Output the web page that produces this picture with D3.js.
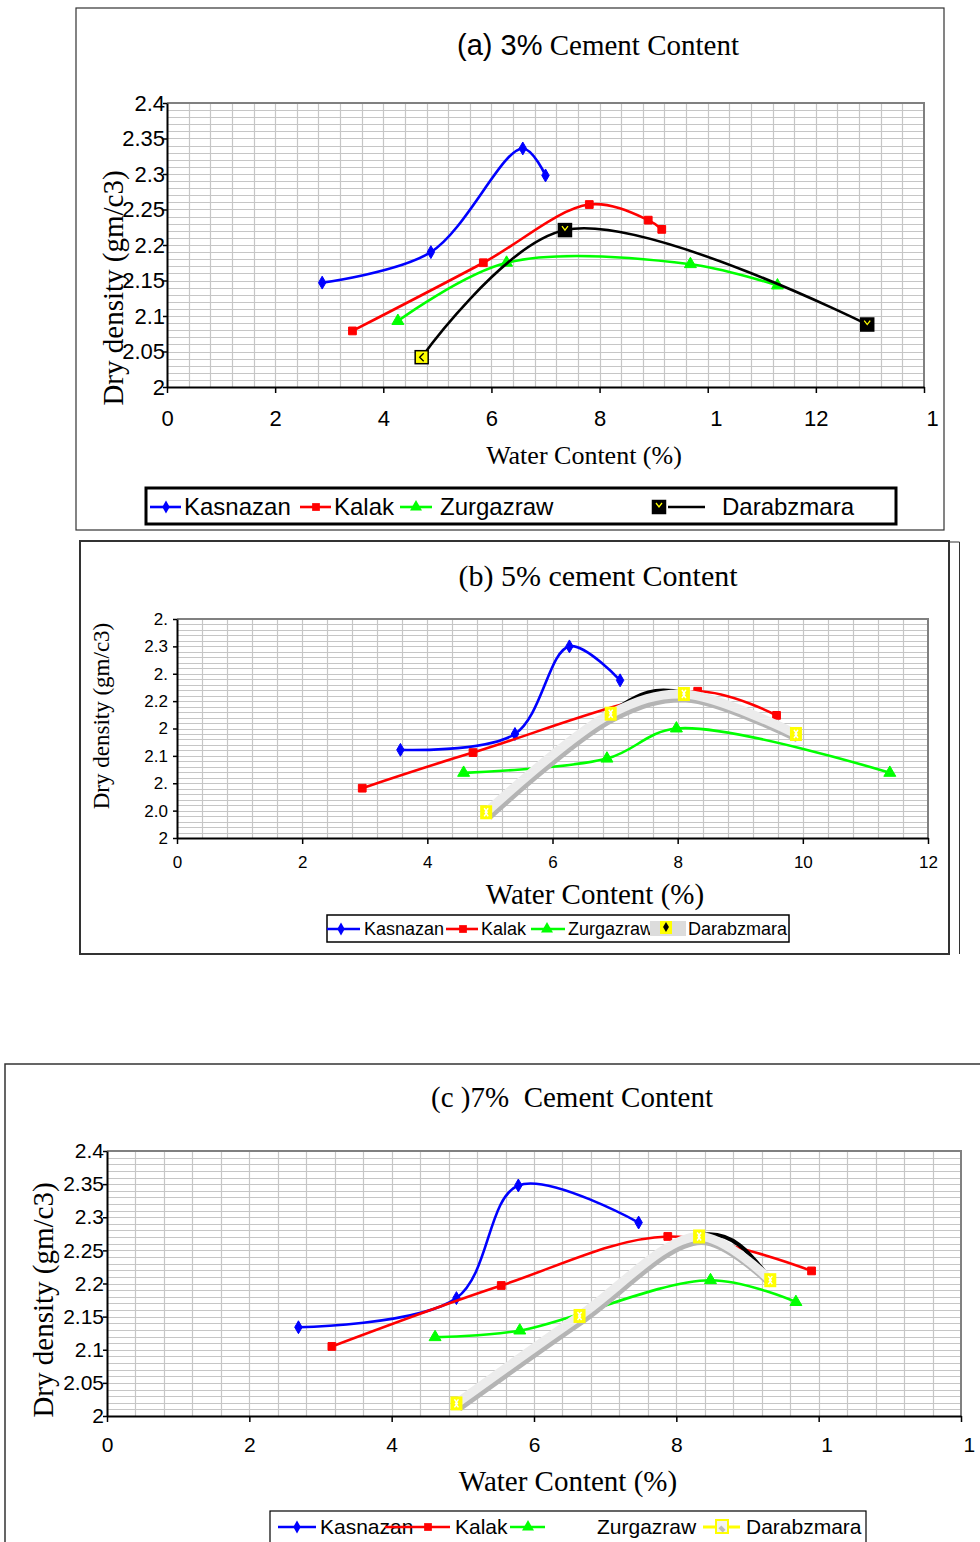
<!DOCTYPE html>
<html lang="en">
<head>
<meta charset="utf-8">
<script src="https://cdn.jsdelivr.net/npm/d3@7"></script>
<style>
  body { margin: 0; background: #fff; }
  text { white-space: pre; }
</style>
</head>
<body>
<svg id="chart" width="980" height="1542"></svg>
<script>
// series names
var names = ['Kasnazan', 'Kalak', 'Zurgazraw', 'Darabzmara'];

// (a) 3% cement content : [water content, dry density]
var kasnazan3 = [[2.87, 2.147], [4.88, 2.190], [6.58, 2.336], [7.00, 2.298]];
var kalak3 = [[3.43, 2.079], [5.85, 2.175], [7.81, 2.257], [8.90, 2.235], [9.15, 2.222]];
var zurgazraw3 = [[4.27, 2.093], [6.28, 2.175], [9.68, 2.173], [11.29, 2.143]];
var darabzmara3 = [[4.71, 2.042], [7.36, 2.221], [12.95, 2.088]];

// (b) 5% cement content
var kasnazan5 = [[3.57, 2.111], [5.40, 2.140], [6.27, 2.300], [7.08, 2.238]];
var kalak5 = [[2.96, 2.041], [4.73, 2.106], [8.32, 2.218], [9.58, 2.174]];
var zurgazraw5 = [[4.58, 2.069], [6.87, 2.095], [7.98, 2.150], [11.39, 2.069]];
var darabzmara5 = [[4.94, 1.997], [6.93, 2.177], [8.10, 2.213], [9.89, 2.140]];

// (c) 7% cement content
var kasnazan7 = [[2.69, 2.134], [4.91, 2.178], [5.78, 2.348], [7.47, 2.292]];
var kalak7 = [[3.16, 2.105], [5.54, 2.197], [7.88, 2.271], [9.90, 2.219]];
var zurgazraw7 = [[4.61, 2.119], [5.80, 2.129], [8.48, 2.205], [9.68, 2.172]];
var darabzmara7 = [[4.91, 2.019], [6.64, 2.151], [8.32, 2.271], [9.32, 2.205]];

// tick labels (as printed, some are cut off in the original)
var xTicksA = [0, 2, 4, 6, 8, 10, 12, 14];
var xLabelsA = ['0', '2', '4', '6', '8', '1', '12', '1'];
var yTicksA = [2, 2.05, 2.1, 2.15, 2.2, 2.25, 2.3, 2.35, 2.4];
var yLabelsA = ['2', '2.05', '2.1', '2.15', '2.2', '2.25', '2.3', '2.35', '2.4'];

var xTicksB = [0, 2, 4, 6, 8, 10, 12];
var xLabelsB = ['0', '2', '4', '6', '8', '10', '12'];
var yTicksB = [1.95, 2, 2.05, 2.1, 2.15, 2.2, 2.25, 2.3, 2.35];
var yLabelsB = ['2', '2.0', '2.', '2.1', '2', '2.2', '2.', '2.3', '2.'];

var xTicksC = [0, 2, 4, 6, 8, 10, 12];
var xLabelsC = ['0', '2', '4', '6', '8', '1', '1'];
var yTicksC = [2, 2.05, 2.1, 2.15, 2.2, 2.25, 2.3, 2.35, 2.4];
var yLabelsC = ['2', '2.05', '2.1', '2.15', '2.2', '2.25', '2.3', '2.35', '2.4'];

var sans = '"Liberation Sans", Arial, sans-serif';
var serif = '"Liberation Serif", "Times New Roman", serif';

var colors = { Kasnazan: '#0000ff', Kalak: '#ff0000', Zurgazraw: '#00ff00', Darabzmara: '#000000' };
var shapes = { Kasnazan: d3.symbolDiamond, Kalak: d3.symbolSquare, Zurgazraw: d3.symbolTriangle };
var sizes = { Kasnazan: 48, Kalak: 60, Zurgazraw: 62 };

var svg = d3.select('#chart');

var drawDarMarker = function(g, cx, cy, first) {
  g.append('rect').attr('x', cx - 6.5).attr('y', cy - 6.5).attr('width', 13).attr('height', 13)
    .attr('fill', first ? '#ffff00' : '#000').attr('stroke', '#000').attr('stroke-width', 1.5);
  g.append('path')
    .attr('d', first ? 'M' + (cx + 2) + ',' + (cy - 4) + 'l-4,4l4,4' : 'M' + (cx - 3) + ',' + (cy - 4) + 'l3,4l3,-4')
    .attr('fill', 'none').attr('stroke', first ? '#000' : '#ffff00').attr('stroke-width', 1.3);
};

var drawYellowMarker = function(g, cx, cy) {
  g.append('rect').attr('x', cx - 6).attr('y', cy - 7).attr('width', 12).attr('height', 14)
    .attr('fill', '#ffff00');
  g.append('path')
    .attr('d', 'M' + (cx - 2) + ',' + (cy - 4) + 'l3,4l-3,4M' + (cx + 2) + ',' + (cy - 4) + 'l-3,4l3,4')
    .attr('fill', 'none').attr('stroke', '#fff').attr('stroke-width', 1.4);
};

var drawPanel = function(p) {
  var g = svg.append('g');
  var x = d3.scaleLinear().domain(p.xDomain).range([p.left, p.right]);
  var y = d3.scaleLinear().domain(p.yDomain).range([p.bottom, p.top]);

  // frame
  g.append('rect').attr('x', p.frame[0]).attr('y', p.frame[1])
    .attr('width', p.frame[2]).attr('height', p.frame[3])
    .attr('fill', 'none').attr('stroke', '#333').attr('stroke-width', p.frameWidth);

  // grid
  var nh = Math.round((p.yDomain[1] - p.yDomain[0]) / 0.01);
  var hs = d3.range(1, nh).map(function(i) { return p.yDomain[0] + i * 0.01; });
  g.append('g').selectAll('line').data(hs).enter().append('line')
    .attr('x1', p.left).attr('x2', p.right)
    .attr('y1', function(d) { return Math.round(y(d)) + 0.5; })
    .attr('y2', function(d) { return Math.round(y(d)) + 0.5; })
    .attr('stroke', '#c6c6c6').attr('stroke-width', 1.2);
  var nv = Math.round((p.xDomain[1] - p.xDomain[0]) / 0.4);
  var vs = d3.range(1, nv).map(function(i) { return p.xDomain[0] + i * 0.4; });
  g.append('g').selectAll('line').data(vs).enter().append('line')
    .attr('y1', p.top).attr('y2', p.bottom)
    .attr('x1', function(d) { return Math.round(x(d)) + 0.5; })
    .attr('x2', function(d) { return Math.round(x(d)) + 0.5; })
    .attr('stroke', '#c6c6c6').attr('stroke-width', 1.2);

  g.append('path').attr('d', 'M' + p.left + ',' + p.top + 'H' + p.right + 'V' + p.bottom)
    .attr('fill', 'none').attr('stroke', '#808080').attr('stroke-width', 2);

  // axes
  var xAxis = d3.axisBottom(x).tickValues(p.xTicks)
    .tickFormat(function(d, i) { return p.xLabels[i]; })
    .tickSize(6).tickSizeOuter(0).tickPadding(p.xPad);
  var gx = g.append('g').attr('transform', 'translate(0,' + p.bottom + ')').call(xAxis)
    .attr('font-family', sans).attr('font-size', p.tickFont);
  gx.select('.domain').attr('stroke', '#000').attr('stroke-width', 2);
  gx.selectAll('.tick line').attr('stroke', '#000').attr('stroke-width', 1.5);
  gx.selectAll('.tick text').attr('fill', '#000')
    .filter(function(d, i) { return p.xLabels[i] !== String(d); })
    .attr('text-anchor', 'start').attr('dx', 2);

  var yAxis = d3.axisLeft(y).tickValues(p.yTicks)
    .tickFormat(function(d, i) { return p.yLabels[i]; })
    .tickSize(4).tickSizeOuter(0).tickPadding(p.yPad);
  var gy = g.append('g').attr('transform', 'translate(' + p.left + ',0)').call(yAxis)
    .attr('font-family', sans).attr('font-size', p.tickFont);
  gy.select('.domain').attr('stroke', '#000').attr('stroke-width', 2);
  gy.selectAll('.tick line').attr('stroke', '#000').attr('stroke-width', 1.5);
  gy.selectAll('.tick text').attr('fill', '#000');

  // titles
  var t = g.append('text').attr('x', p.title.x).attr('y', p.title.y)
    .attr('text-anchor', 'middle').attr('fill', '#000');
  p.title.parts.forEach(function(part) {
    t.append('tspan').attr('font-family', part.sans ? sans : serif)
      .attr('font-size', part.size).text(part.text);
  });
  g.append('text').attr('transform', 'translate(' + p.yTitle.x + ',' + p.yTitle.y + ') rotate(-90)')
    .attr('text-anchor', 'middle').attr('dy', '0.35em')
    .attr('font-family', serif).attr('font-size', p.yTitle.size)
    .text('Dry density (gm/c3)');
  g.append('text').attr('x', p.xTitle.x).attr('y', p.xTitle.y)
    .attr('text-anchor', 'middle')
    .attr('font-family', serif).attr('font-size', p.xTitle.size)
    .text('Water Content (%)');

  // series
  var smooth = d3.line().x(function(d) { return x(d[0]); }).y(function(d) { return y(d[1]); })
    .curve(d3.curveCatmullRom.alpha(0.5));
  var natural = d3.line().x(function(d) { return x(d[0]); }).y(function(d) { return y(d[1]); })
    .curve(d3.curveNatural);

  p.series.forEach(function(data, si) {
    var name = names[si];
    var sg = g.append('g').classed('series', true);
    if (name !== 'Darabzmara') {
      sg.append('path').datum(data).attr('d', smooth)
        .attr('fill', 'none').attr('stroke', colors[name]).attr('stroke-width', 2.6);
      sg.selectAll('path.mark').data(data).enter().append('path').classed('mark', true)
        .attr('transform', function(d) { return 'translate(' + x(d[0]) + ',' + y(d[1]) + ')'; })
        .attr('d', d3.symbol().type(shapes[name]).size(sizes[name]))
        .attr('fill', colors[name]).attr('stroke', colors[name]).attr('stroke-width', 1);
    } else if (p.darStyle === 'black') {
      sg.append('path').datum(data).attr('d', smooth)
        .attr('fill', 'none').attr('stroke', '#000').attr('stroke-width', 2.6);
      data.forEach(function(d, i) { drawDarMarker(sg, x(d[0]), y(d[1]), i === 0); });
    } else {
      sg.append('path').datum(data).attr('d', natural).attr('transform', 'translate(0,-1)')
        .attr('fill', 'none').attr('stroke', '#000').attr('stroke-width', 4);
      sg.append('path').datum(data).attr('d', smooth).attr('transform', 'translate(2,4)')
        .attr('fill', 'none').attr('stroke', '#b4b4b4').attr('stroke-width', 9);
      sg.append('path').datum(data).attr('d', smooth)
        .attr('fill', 'none').attr('stroke', '#ececec').attr('stroke-width', 9);
      data.forEach(function(d) { drawYellowMarker(sg, x(d[0]), y(d[1])); });
    }
  });

  // legend
  var L = p.legend;
  var lg = g.append('g').classed('legend', true);
  lg.append('rect').attr('x', L.box[0]).attr('y', L.box[1]).attr('width', L.box[2]).attr('height', L.box[3])
    .attr('fill', '#fff').attr('stroke', '#000').attr('stroke-width', L.stroke);
  L.items.forEach(function(it, i) {
    var name = names[i];
    var cy = L.lineY;
    lg.append('text').attr('x', it.t).attr('y', L.baseline)
      .attr('font-family', sans).attr('font-size', L.font).text(name);
    if (name !== 'Darabzmara') {
      lg.append('line').attr('x1', it.l1).attr('x2', it.l2).attr('y1', cy).attr('y2', cy)
        .attr('stroke', colors[name]).attr('stroke-width', 2.6);
      lg.append('path').attr('transform', 'translate(' + it.m + ',' + cy + ')')
        .attr('d', d3.symbol().type(shapes[name]).size(sizes[name]))
        .attr('fill', colors[name]);
    } else if (p.darStyle === 'black') {
      lg.append('line').attr('x1', it.l1).attr('x2', it.l2).attr('y1', cy).attr('y2', cy)
        .attr('stroke', '#000').attr('stroke-width', 2.6);
      drawDarMarker(lg, it.m, cy, false);
    } else if (L.yellowLine) {
      lg.append('line').attr('x1', it.l1).attr('x2', it.l2).attr('y1', cy).attr('y2', cy)
        .attr('stroke', '#ffff00').attr('stroke-width', 3);
      lg.append('rect').attr('x', it.m - 6).attr('y', cy - 7).attr('width', 12).attr('height', 13)
        .attr('fill', '#f2f2f2').attr('stroke', '#ffff00').attr('stroke-width', 2);
      lg.append('path').attr('transform', 'translate(' + it.m + ',' + (cy + 2) + ') rotate(45)')
        .attr('d', 'M-3,-2H3V2H-3Z').attr('fill', '#bbb');
    } else {
      lg.append('rect').attr('x', it.l1).attr('y', cy - 8).attr('width', it.l2 - it.l1).attr('height', 15)
        .attr('fill', '#dcdcdc');
      lg.append('rect').attr('x', it.m - 6).attr('y', cy - 8).attr('width', 12).attr('height', 13)
        .attr('fill', '#ffff00');
      lg.append('path').attr('transform', 'translate(' + it.m + ',' + (cy - 2) + ')')
        .attr('d', d3.symbol().type(d3.symbolDiamond).size(30)).attr('fill', '#000');
    }
  });
};

// (a)
drawPanel({
  frame: [76, 8, 868, 522], frameWidth: 1.2,
  left: 167, right: 924, top: 103, bottom: 387,
  xDomain: [0, 14], yDomain: [2, 2.4],
  xTicks: xTicksA, xLabels: xLabelsA, yTicks: yTicksA, yLabels: yLabelsA,
  tickFont: 22, xPad: 17, yPad: -2,
  title: { x: 598, y: 55, parts: [{ text: '(a) 3%', sans: true, size: 29 }, { text: ' Cement Content', size: 29 }] },
  yTitle: { x: 113, y: 288, size: 29 },
  xTitle: { x: 584, y: 464, size: 26 },
  series: [kasnazan3, kalak3, zurgazraw3, darabzmara3],
  darStyle: 'black',
  legend: {
    box: [146, 488, 750, 36], stroke: 3, font: 24, baseline: 515, lineY: 507,
    items: [{ l1: 150, l2: 181, m: 166, t: 184 }, { l1: 300, l2: 331, m: 316, t: 334 },
            { l1: 400, l2: 432, m: 416, t: 440 }, { l1: 668, l2: 705, m: 659, t: 722 }]
  }
});

// (b)
drawPanel({
  frame: [80, 541, 869, 413], frameWidth: 2,
  left: 177, right: 928, top: 619, bottom: 838,
  xDomain: [0, 12], yDomain: [1.95, 2.35],
  xTicks: xTicksB, xLabels: xLabelsB, yTicks: yTicksB, yLabels: yLabelsB,
  tickFont: 17, xPad: 12, yPad: 5,
  title: { x: 598, y: 586, parts: [{ text: '(b) 5% cement Content', size: 30 }] },
  yTitle: { x: 101, y: 716, size: 23 },
  xTitle: { x: 595, y: 904, size: 29 },
  series: [kasnazan5, kalak5, zurgazraw5, darabzmara5],
  darStyle: 'gray',
  legend: {
    box: [327, 915, 462, 27], stroke: 1.5, font: 18, baseline: 935, lineY: 929,
    items: [{ l1: 327, l2: 360, m: 341, t: 364 }, { l1: 446, l2: 478, m: 463, t: 481 },
            { l1: 531, l2: 565, m: 547, t: 568 }, { l1: 650, l2: 686, m: 666, t: 688 }]
  }
});
svg.append('path').attr('d', 'M949,542H959.5V954').attr('fill', 'none').attr('stroke', '#333').attr('stroke-width', 1);

// (c)
drawPanel({
  frame: [5, 1064, 1000, 600], frameWidth: 1.5,
  left: 107, right: 961, top: 1151, bottom: 1416,
  xDomain: [0, 12], yDomain: [2, 2.4],
  xTicks: xTicksC, xLabels: xLabelsC, yTicks: yTicksC, yLabels: yLabelsC,
  tickFont: 21, xPad: 15, yPad: -1,
  title: { x: 572, y: 1107, parts: [{ text: '(c )7%  Cement Content', size: 29 }] },
  yTitle: { x: 43, y: 1300, size: 29 },
  xTitle: { x: 568, y: 1491, size: 29 },
  series: [kasnazan7, kalak7, zurgazraw7, darabzmara7],
  darStyle: 'gray',
  legend: {
    box: [270, 1511, 596, 60], stroke: 1.2, font: 21, baseline: 1534, lineY: 1527, yellowLine: true,
    items: [{ l1: 278, l2: 316, m: 297, t: 320 }, { l1: 385, l2: 450, m: 428, t: 455 },
            { l1: 510, l2: 545, m: 528, t: 597 }, { l1: 703, l2: 740, m: 722, t: 746 }]
  }
});
</script>
</body>
</html>
